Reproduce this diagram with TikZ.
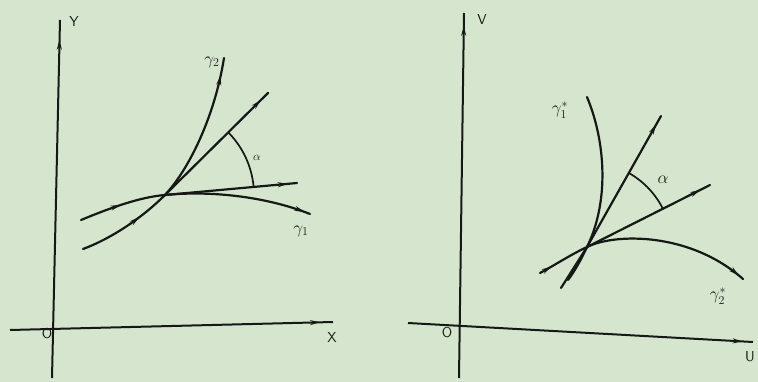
\documentclass[tikz,border=0pt]{standalone}
\usetikzlibrary{arrows.meta,decorations.markings,calc}
\definecolor{paper}{RGB}{214,230,206}
\definecolor{ink}{RGB}{22,24,22}
\tikzset{
  curve/.style={ink, line width=2.2pt, line cap=round},
  axis/.style={ink, line width=2pt},
  arcline/.style={ink, line width=1.7pt},
  arr/.style={postaction={decorate, decoration={markings,
      mark=at position #1 with {\arrow{Stealth[length=10pt,width=5pt]}}}}},
  lbl/.style={font=\sffamily\Large, inner sep=0pt, text=ink},
  mlbl/.style={font=\LARGE, inner sep=0pt, text=ink},
}
\begin{document}
\begin{tikzpicture}[x=1pt,y=-1pt]
\fill[paper] (0,0) rectangle (758,382);
\useasboundingbox (0,0) rectangle (758,382);

% ---------- left panel ----------
\coordinate (Ybot) at (52,378);
\coordinate (Ytop) at (60,20);
\coordinate (Xl) at (10,330);
\coordinate (Xr) at (333,322);
\draw[axis, arr=0.945] (Ybot) -- (Ytop);
\draw[axis, arr=0.96] (Xl) -- (Xr);
\node[lbl] (Y) at (74,22) {Y};
\node[lbl] (X) at (332,338) {X};
\node[lbl] (O) at (47,334) {O};

\coordinate (P1) at (165,195);
\coordinate (T1) at (297,183);
\coordinate (T2) at (268,93);
\coordinate (G1a) at (81,220);
\coordinate (G1b) at (310,214);
\coordinate (G2a) at (83,249);
\coordinate (G2b) at (224,58);

% gamma_1
\draw[curve, arr=0.18, arr=0.975] (G1a) .. controls (110,208) and (140,197) .. (P1)
  .. controls (215,190) and (270,198) .. (G1b);
% gamma_2
\draw[curve, arr=0.26, arr=0.93] (G2a) .. controls (115,237) and (145,215) .. (P1)
  .. controls (190,168) and (215,115) .. (G2b);
% tangents
\draw[curve, arr=0.93] (P1) -- (T1);
\draw[curve, arr=0.93] (P1) -- (T2);
% angle arc
\draw[arcline] plot[domain=-5.2:-44.7, samples=40] ({165+89*cos(\x)},{195+89*sin(\x)});
\node[mlbl, font=\large] (a1) at (257,158) {$\alpha$};
\node[mlbl] (g1) at (301,231) {$\gamma_1$};
\node[mlbl] (g2) at (212,62) {$\gamma_2$};

% ---------- right panel ----------
\coordinate (Vbot) at (459,378);
\coordinate (Vtop) at (464,13);
\coordinate (Ul) at (408,323);
\coordinate (Ur) at (753,342);
\draw[axis, arr=0.965] (Vbot) -- (Vtop);
\draw[axis, arr=0.97] (Ul) -- (Ur);
\node[lbl] (V) at (482,20) {V};
\node[lbl] (U) at (750,357) {U};
\node[lbl] (O2) at (447,333) {O};

\coordinate (P2) at (587,247);
\coordinate (L3) at (561,288);
\coordinate (T3) at (661,116);
\coordinate (T4) at (710,185);
\coordinate (H1a) at (587,97);
\coordinate (H1b) at (568,280);
\coordinate (H2a) at (540,273);
\coordinate (H2b) at (743,279);

% gamma_1^*
\draw[curve] (H1a) .. controls (605,140) and (610,200) .. (P2)
  .. controls (580,262) and (574,272) .. (H1b);
% gamma_2^*
\draw[curve, arr=0.06, arr=0.975] (H2a) .. controls (555,265) and (570,255) .. (P2)
  .. controls (615,233) and (690,232) .. (H2b);
% tangents
\draw[curve, arr=0.95] (L3) -- (P2) -- (T3);
\draw[curve, arr=0.92] (P2) -- (T4);
% angle arc
\draw[arcline] plot[domain=-26.8:-60.7, samples=40] ({587+85*cos(\x)},{247+85*sin(\x)});
\node[mlbl] (a2) at (663,180) {$\alpha$};
\node[mlbl] (g1s) at (560,110) {$\gamma_1^*$};
\node[mlbl] (g2s) at (718,296) {$\gamma_2^*$};
\end{tikzpicture}
\end{document}
